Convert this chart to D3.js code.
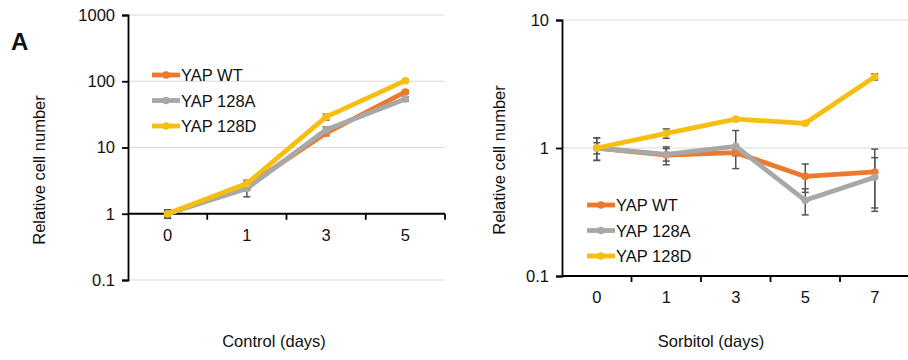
<!DOCTYPE html>
<html><head><meta charset="utf-8">
<script src="https://cdn.jsdelivr.net/npm/d3@7"></script>
<style>
html,body{margin:0;padding:0;background:#fff;}
svg{display:block;font-family:"Liberation Sans",Arial,sans-serif;}
</style></head>
<body>
<svg id="c" width="908" height="360"></svg>
<script>
// ---- Data ----
const seriesNames = ["YAP WT", "YAP 128A", "YAP 128D"];
const seriesColors = ["#EB7A2E", "#A8A8A8", "#F7BE12"];

const controlDays = ["0", "1", "3", "5"];
const controlWT   = [1.0, 2.6, 16.5, 69];
const controlA    = [1.0, 2.4, 18.5, 54];
const controlD    = [1.0, 2.85, 29, 102];
const controlWTerr = [0.12, 0.3, 1.5, 4];
const controlAerr  = [0.15, 0.6, 2.0, 4];
const controlDerr  = [0.12, 0.35, 3.0, 5];

const sorbDays = ["0", "1", "3", "5", "7"];
const sorbWT   = [1.0, 0.88, 0.92, 0.60, 0.65];
const sorbA    = [1.0, 0.89, 1.03, 0.39, 0.59];
const sorbD    = [1.0, 1.30, 1.68, 1.56, 3.6];
const sorbWTerr = [0.1, 0.14, 0.05, 0.15, 0.33];
const sorbAerr  = [0.2, 0.1, 0.34, 0.09, 0.25];
const sorbDerr  = [0.2, 0.11, 0.03, 0.03, 0.2];

const controlTicks = [0.1, 1, 10, 100, 1000];
const sorbTicks = [0.1, 1, 10];

const svg = d3.select("#c");
const FS = 16.5;

function panel(opt) {
  const g = svg.append("g");
  const x = d3.scaleBand().domain(opt.cats).range([opt.x0, opt.x1]);
  const y = d3.scaleLog().domain(opt.yDomain).range([opt.yb, opt.yt]);
  // gridlines
  g.append("g").selectAll("line").data(opt.ticks.filter(t => t !== opt.xAxisAt))
    .join("line")
    .attr("x1", opt.x0).attr("x2", opt.x1)
    .attr("y1", d => y(d)).attr("y2", d => y(d))
    .attr("stroke", "#d9d9d9").attr("stroke-width", 1.2);
  // y axis
  const ya = d3.axisLeft(y).tickValues(opt.ticks).tickSize(6).tickPadding(7)
    .tickFormat(d => String(d));
  const yg = g.append("g").attr("transform", `translate(${opt.x0},0)`).call(ya);
  yg.select(".domain").attr("stroke", "#000").attr("stroke-width", 1.8);
  yg.selectAll(".tick line").attr("stroke", "#000").attr("stroke-width", 1.8);
  yg.selectAll(".tick text").attr("font-size", FS).attr("fill", "#111")
    .attr("font-family", "Liberation Sans, Arial, sans-serif");
  // x axis line
  const ax = y(opt.xAxisAt);
  g.append("line").attr("x1", opt.x0).attr("x2", opt.x1)
    .attr("y1", ax).attr("y2", ax).attr("stroke", "#000").attr("stroke-width", 1.8);
  // boundary ticks
  g.append("g").selectAll("line").data(opt.cats).join("line")
    .attr("x1", d => x(d) + x.bandwidth()).attr("x2", d => x(d) + x.bandwidth())
    .attr("y1", ax).attr("y2", ax + 6)
    .attr("stroke", "#000").attr("stroke-width", 1.8);
  // x labels
  g.append("g").selectAll("text").data(opt.cats).join("text")
    .attr("x", d => x(d) + x.bandwidth() / 2).attr("y", ax + 27)
    .attr("text-anchor", "middle").attr("font-size", FS).attr("fill", "#111")
    .text(d => d);
  // titles
  g.append("text").attr("transform", `translate(${opt.ytX},${opt.ytY}) rotate(-90)`)
    .attr("text-anchor", "middle").attr("font-size", FS).attr("fill", "#111")
    .text("Relative cell number");
  g.append("text").attr("x", opt.xtX).attr("y", 347).attr("text-anchor", "middle")
    .attr("font-size", FS).attr("fill", "#111").text(opt.xTitle);
  // error bars
  const cx = d => x(d) + x.bandwidth() / 2;
  opt.series.forEach((s, i) => {
    const eg = g.append("g");
    const pts = opt.cats.map((c, j) => ({c, v: s.v[j], e: s.e[j]}));
    eg.selectAll("line.v").data(pts).join("line")
      .attr("x1", d => cx(d.c)).attr("x2", d => cx(d.c))
      .attr("y1", d => y(d.v + d.e)).attr("y2", d => y(Math.max(d.v - d.e, 0.1)))
      .attr("stroke", "#555").attr("stroke-width", 1.5);
    ["hi", "lo"].forEach(k => {
      eg.selectAll("line." + k).data(pts).join("line")
        .attr("x1", d => cx(d.c) - 3.5).attr("x2", d => cx(d.c) + 3.5)
        .attr("y1", d => y(k === "hi" ? d.v + d.e : Math.max(d.v - d.e, 0.1)))
        .attr("y2", d => y(k === "hi" ? d.v + d.e : Math.max(d.v - d.e, 0.1)))
        .attr("stroke", "#555").attr("stroke-width", 1.5);
    });
  });
  // lines
  const line = d3.line().x(d => cx(d.c)).y(d => y(d.v));
  opt.series.forEach((s, i) => {
    const pts = opt.cats.map((c, j) => ({c, v: s.v[j]}));
    g.append("path").datum(pts).attr("d", line).attr("fill", "none")
      .attr("stroke", seriesColors[i]).attr("stroke-width", 4.8)
      .attr("stroke-linejoin", "round");
    g.append("g").selectAll("circle").data(pts).join("circle")
      .attr("cx", d => cx(d.c)).attr("cy", d => y(d.v)).attr("r", 3.8)
      .attr("fill", seriesColors[i]);
  });
  // legend
  const lg = g.append("g");
  seriesNames.forEach((n, i) => {
    const yy = opt.legY + i * opt.legDy;
    lg.append("line").attr("x1", opt.legX).attr("x2", opt.legX + 28)
      .attr("y1", yy).attr("y2", yy).attr("stroke", seriesColors[i]).attr("stroke-width", 4.8);
    lg.append("circle").attr("cx", opt.legX + 14).attr("cy", yy).attr("r", 3.8)
      .attr("fill", seriesColors[i]);
    lg.append("text").attr("x", opt.legX + 29).attr("y", yy + 6)
      .attr("font-size", FS).attr("fill", "#111").text(n);
  });
}

panel({
  cats: controlDays, x0: 128, x1: 445, yDomain: [0.1, 1000], yb: 280, yt: 15,
  ticks: controlTicks, xAxisAt: 1, ytX: 45, ytY: 170, xtX: 274, xTitle: "Control (days)",
  series: [{v: controlWT, e: controlWTerr}, {v: controlA, e: controlAerr}, {v: controlD, e: controlDerr}],
  legX: 152, legY: 75, legDy: 25.5
});
panel({
  cats: sorbDays, x0: 562, x1: 909.5, yDomain: [0.1, 10], yb: 276, yt: 20,
  ticks: sorbTicks, xAxisAt: 0.1, ytX: 505, ytY: 160, xtX: 711, xTitle: "Sorbitol (days)",
  series: [{v: sorbWT, e: sorbWTerr}, {v: sorbA, e: sorbAerr}, {v: sorbD, e: sorbDerr}],
  legX: 587, legY: 205, legDy: 25.5
});
svg.append("text").attr("x", 11).attr("y", 50).attr("font-size", 24)
  .attr("font-weight", "bold").attr("fill", "#111").text("A");
</script>
</body></html>
